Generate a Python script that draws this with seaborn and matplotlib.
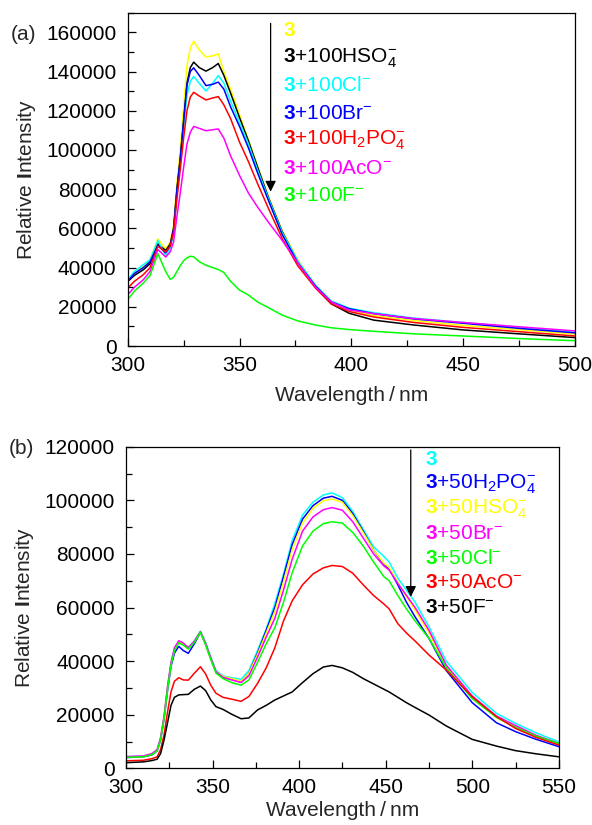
import numpy as np
import pandas as pd
import matplotlib
matplotlib.use("Agg")
import matplotlib.pyplot as plt
from matplotlib.ticker import MultipleLocator
import seaborn as sns

# ---- panel (a): emission of 3 with 100 equiv. anions (intensity in units of 1000)
wl_a = [300, 303, 307, 310, 313.5, 317, 319, 320.5, 322, 323.5, 325, 326.5, 328, 329.5,
        332, 335, 338, 340.5, 343, 346, 350, 354, 358, 363, 369, 376, 384, 391, 399,
        410, 428, 450, 475, 500]
a_3 = [33.5, 37, 40.5, 44, 54.7, 49.5, 53, 61, 83, 100, 122, 143, 152, 155.5,
       151, 147.4, 148, 149, 140, 131, 118, 105, 92, 76, 59, 44, 31, 23, 18.4,
       15.5, 13, 10.5, 8.3, 6.1]
a_hso4 = [32.9, 36, 38.9, 42, 52.1, 48.7, 52, 60, 80, 96, 115, 134, 142, 144.8,
          142, 140.2, 142, 144.1, 138, 129, 116.5, 104.5, 91.5, 75.5, 58.5, 43, 30, 21.5, 16.7,
          13.2, 10.7, 8.2, 6.2, 4.3]
a_cl = [33.8, 38, 41.5, 44, 53.9, 45.8, 50, 57, 77, 93, 112, 128, 135, 137.5,
        134, 130.1, 134, 138, 134, 125, 114, 103, 90, 75, 58, 43.5, 31, 23, 19.3,
        17, 14.2, 12, 9.5, 7.0]
a_br = [33, 37, 40, 43, 51.4, 47.5, 51, 59, 79, 95, 114, 133, 140, 141.9,
        138, 132.8, 133.5, 134.6, 131, 122, 112, 101, 88.5, 74, 57, 42.5, 30.5, 22.5, 19,
        16.5, 13.8, 11.6, 9, 6.7]
a_h2po4 = [29.5, 33, 36.4, 40, 50.9, 48, 51, 58, 75, 90, 106, 120, 127, 129.4,
           127.5, 125.5, 126.5, 127.2, 123, 116, 104, 94, 83, 70, 55, 41, 29.5, 21.5, 17.6,
           14.8, 12, 9.5, 7.3, 5.1]
a_aco = [26.1, 30, 33.8, 38, 49.2, 45.4, 48, 53, 66, 78, 91, 103, 109, 112,
         111, 109.8, 110.3, 110.7, 106, 97, 87, 78, 71, 63, 54, 42.5, 30, 22.5, 18.4,
         16.5, 14, 12, 9.8, 7.7]
a_f = [23.6, 28, 32.1, 36, 47.1, 38, 34, 35, 38, 41, 43.5, 45, 45.8, 45.5,
       43, 41.2, 40, 39, 37.5, 33, 28.5, 26, 22.5, 19.5, 15.8, 12.8, 10.7, 9.3, 8.4,
       7.5, 6.2, 5.1, 3.8, 2.7]

labels_a = [r"$\mathbf{3}$", r"$\mathbf{3}$+100HSO$_4^{-}$", r"$\mathbf{3}$+100Cl$^{-}$",
            r"$\mathbf{3}$+100Br$^{-}$", r"$\mathbf{3}$+100H$_2$PO$_4^{-}$",
            r"$\mathbf{3}$+100AcO$^{-}$", r"$\mathbf{3}$+100F$^{-}$"]
colors_a = ["#FFFF00", "#000000", "#00FFFF", "#0000FF", "#FF0000", "#FF00FF", "#00FF00"]
series_a = [a_3, a_hso4, a_cl, a_br, a_h2po4, a_aco, a_f]

# ---- panel (b): emission of 3 with 50 equiv. anions (intensity in units of 1000)
wl_b = [300, 310, 315, 318, 320, 322, 324, 326, 328, 330.5, 333, 336, 339.5, 343, 346,
        349, 352, 356, 361, 366.5, 371, 376, 381, 386, 391, 396, 402, 408, 414, 419,
        425, 431, 437, 443, 449, 452, 457, 462, 467, 475, 485, 500, 514, 525, 537, 550]
b_3 = [4.3, 4.5, 5.3, 6.8, 11, 19, 30, 39, 44.5, 47.4, 46.5, 45.2, 47.5, 51.2, 47,
       41.5, 36.5, 34.5, 33.8, 33.2, 36.5, 44, 52, 61.5, 72.5, 85, 94.5, 99.3, 102, 102.8,
       101, 95.8, 89.2, 82.7, 79, 77, 71, 66.5, 62, 52.8, 40, 28.3, 20.5, 16.8, 13.2, 9.9]
b_h2po4 = [4.0, 4.3, 5.0, 6.5, 10.5, 18.5, 29, 38, 43, 45.5, 44, 42.9, 46.5, 50.8, 46.5,
           41, 36, 34, 33.2, 32.3, 35.5, 43, 51.5, 60, 71.5, 83.5, 93, 98, 100.8, 101.5,
           100, 95, 88.5, 81.5, 76, 74.5, 68.5, 62, 56.5, 48.5, 36.5, 24.5, 17, 13.7, 10.8, 8.1]
b_hso4 = [4.2, 4.4, 5.2, 6.7, 11, 19, 30, 39, 44.5, 47.2, 46.3, 45, 47.3, 51, 46.5,
          41, 36, 34.3, 33.5, 32.5, 35.5, 42.5, 50.5, 58.5, 69.5, 81.5, 91.5, 97, 99.8, 100.5,
          99.3, 94.3, 88, 81.5, 76.5, 75, 69.5, 64, 59, 50.5, 38, 26.5, 19, 15.5, 12, 9.3]
b_br = [4.4, 4.6, 5.5, 7, 11.5, 19.5, 30.5, 39.5, 45, 47.6, 46.8, 45, 47.5, 51, 46.5,
        41, 36, 34, 33, 32, 34.5, 41.5, 49, 56, 66.5, 78, 88.5, 93.8, 96.5, 97.3,
        96.3, 92, 86, 80, 75.5, 74, 69, 64.5, 60, 51.5, 38.5, 27, 19.5, 16, 12.3, 9.3]
b_cl = [4.1, 4.3, 5.1, 6.6, 10.8, 18.8, 29.5, 38.5, 44, 46.8, 46, 44.5, 47, 50.8, 46,
        40.5, 35.5, 33.5, 32, 31, 33, 39.5, 46.5, 52.5, 62, 73, 83, 88.5, 91.3, 92,
        91.5, 88, 83, 77, 71.5, 70, 64.5, 59.5, 55, 48.5, 37.5, 26, 19, 15.3, 12, 9.3]
b_aco = [2.8, 3, 3.6, 4.3, 7, 12.5, 21, 28.5, 32.5, 33.8, 33, 32.9, 35.5, 37.9, 35.2,
         31, 28, 26.5, 25.8, 25, 26.8, 31.7, 37.5, 45, 55, 62.5, 68.5, 72.5, 74.8, 75.7,
         75.3, 72.8, 68.5, 64.5, 61.3, 59.5, 54, 50.5, 47.5, 42.3, 36.7, 26.7, 19.3, 14.9, 11.5, 8.7]
b_f = [2.1, 2.4, 2.9, 3.4, 5.5, 10.6, 17, 23.5, 26.5, 27.4, 27.5, 27.6, 29.5, 30.7, 29,
       25.5, 23, 22, 20.2, 18.5, 18.8, 21.8, 23.5, 25.5, 27, 28.5, 32, 35.3, 37.8, 38.4,
       37.5, 35.8, 33.5, 31.5, 29.5, 28.5, 26.5, 24.5, 22.7, 19.9, 15.8, 10.8, 8.3, 6.6, 5.4, 4.3]

labels_b = [r"$\mathbf{3}$", r"$\mathbf{3}$+50H$_2$PO$_4^{-}$", r"$\mathbf{3}$+50HSO$_4^{-}$",
            r"$\mathbf{3}$+50Br$^{-}$", r"$\mathbf{3}$+50Cl$^{-}$",
            r"$\mathbf{3}$+50AcO$^{-}$", r"$\mathbf{3}$+50F$^{-}$"]
colors_b = ["#00FFFF", "#0000FF", "#FFFF00", "#FF00FF", "#00FF00", "#FF0000", "#000000"]
series_b = [b_3, b_h2po4, b_hso4, b_br, b_cl, b_aco, b_f]

sns.set_style("ticks")
plt.rcParams['font.family'] = ['Liberation Sans', 'DejaVu Sans']
plt.rcParams['mathtext.fontset'] = 'custom'
plt.rcParams['mathtext.rm'] = 'Liberation Sans'
plt.rcParams['mathtext.bf'] = 'Liberation Sans:bold'
plt.rcParams['mathtext.it'] = 'Liberation Sans:italic'
FS = 15


def draw_panel(ax, wl, series, colors, labels, xmax, ymax, xtxt, ytxt, dy, xarrow, yarr0, yarr1,
               xlabpad=8):
    for vals, c in zip(series, colors):
        sns.lineplot(x=wl, y=np.array(vals) * 1000, color=c, linewidth=1.1, ax=ax)
    ax.set_xlim(300, xmax)
    ax.set_ylim(0, ymax)
    ax.xaxis.set_major_locator(MultipleLocator(50))
    ax.xaxis.set_minor_locator(MultipleLocator(25))
    ax.yaxis.set_major_locator(MultipleLocator(20000))
    ax.yaxis.set_minor_locator(MultipleLocator(10000))
    ax.ticklabel_format(axis='y', style='plain', useOffset=False)
    ax.tick_params(which='both', direction='in', width=0.9, labelsize=FS, colors='black')
    ax.tick_params(which='major', length=6, pad=8)
    ax.tick_params(axis='x', which='major', pad=7)
    ax.tick_params(which='minor', length=4)
    for s in ax.spines.values():
        s.set_visible(True)
        s.set_linewidth(0.9)
        s.set_color('black')
    ax.set_xlabel("Wavelength\u2009/\u2009nm", fontsize=FS, labelpad=xlabpad)
    ax.set_ylabel(r"Relative $\mathbf{I}$ntensity", fontsize=FS, labelpad=6)
    for i, (lab, c) in enumerate(zip(labels, colors)):
        ax.text(xtxt, ytxt - i * dy, lab, color=c, fontsize=FS, transform=ax.transAxes,
                ha='left', va='center')
    ax.annotate("", xy=(xarrow, yarr1), xytext=(xarrow, yarr0), xycoords='axes fraction',
                arrowprops=dict(arrowstyle='-|>', color='black', lw=0.9,
                                mutation_scale=16, shrinkA=0, shrinkB=0))


fig = plt.figure(figsize=(5.92, 8.25), dpi=100)
ax1 = fig.add_axes([0.2157, 0.5806, 0.7556, 0.404])
ax2 = fig.add_axes([0.2128, 0.0687, 0.7311, 0.3898])

draw_panel(ax1, wl_a, series_a, colors_a, labels_a, 500, 170000,
           0.347, 0.946, 0.0825, 0.3195, 0.968, 0.463)
draw_panel(ax2, wl_b, series_b, colors_b, labels_b, 550, 120000,
           0.690, 0.959, 0.0765, 0.658, 0.990, 0.533, xlabpad=3)

fig.text(0.040, 0.958, "(a)", fontsize=FS, ha='center', va='center')
fig.text(0.037, 0.4566, "(b)", fontsize=FS, ha='center', va='center')

fig.savefig("out.png", dpi=100)
